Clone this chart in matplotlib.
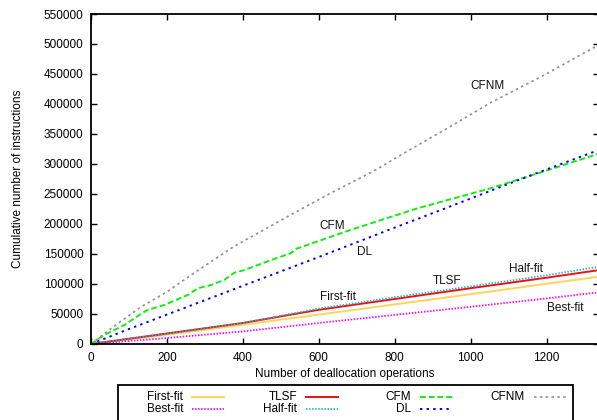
import numpy as np
import matplotlib
matplotlib.use("Agg")
import matplotlib.pyplot as plt
from matplotlib.lines import Line2D
from matplotlib.patches import Rectangle

plt.rcParams['font.family'] = ['Liberation Sans', 'DejaVu Sans']
plt.rcParams['font.size'] = 8.5

# cumulative instruction counts vs number of deallocations
ff_x = [0, 200, 400, 600, 800, 1000, 1200, 1336]
ff_y = [0, 15500, 32000, 49000, 66000, 83000, 100500, 112000]

bf_x = [0, 200, 400, 600, 800, 1000, 1200, 1336]
bf_y = [0, 10000, 21000, 35000, 48500, 62000, 76000, 86000]

tlsf_x = [0, 200, 400, 600, 800, 1000, 1200, 1336]
tlsf_y = [0, 17500, 35000, 57000, 75000, 93000, 110500, 123000]

hf_x = [0, 200, 400, 600, 800, 1000, 1200, 1336]
hf_y = [0, 17000, 35000, 59000, 78000, 96000, 114500, 128500]

cfm_x = [0, 35, 88, 127, 149, 193, 255, 281, 316, 351, 378, 404, 475, 525, 542,
         683, 859, 1052, 1175, 1336]
cfm_y = [0, 15000, 31700, 48300, 56700, 65000, 81700, 92800, 98300, 106700,
         118900, 123300, 140000, 151000, 159000, 190000, 226000, 259500, 284000, 317000]

dl_x = [0, 100, 200, 300, 400, 500, 600, 700, 800, 900, 1000, 1100, 1200, 1336]
dl_y = [0, 25000, 49000, 73000, 97000, 121000, 145000, 169500, 194000, 218000,
        242500, 267000, 291000, 323000]

cfnm_x = [0, 53, 132, 200, 280, 375, 525, 630, 744, 824, 929, 1052, 1190, 1336]
cfnm_y = [0, 26000, 62000, 87000, 122000, 162000, 215000, 251000, 288000, 318000,
          356000, 402000, 447000, 498000]

# in-plot curve labels: (text, x, y)
tags = [("CFNM", 1044, 430000), ("CFM", 635, 196700), ("DL", 720, 153800),
        ("First-fit", 650, 77800), ("TLSF", 938, 105500),
        ("Half-fit", 1146, 125000), ("Best-fit", 1250, 60500)]

# name, x, y, style, key column, key row
series = [
    ("First-fit", ff_x, ff_y, dict(color='#ffd35c', lw=1.4), 0, 0),
    ("Best-fit", bf_x, bf_y, dict(color='#ff00ff', lw=1.3, dashes=(0.8, 0.9)), 0, 1),
    ("TLSF", tlsf_x, tlsf_y, dict(color='#ee1111', lw=1.4), 1, 0),
    ("Half-fit", hf_x, hf_y, dict(color='#22b4c8', lw=1.3, dashes=(0.8, 0.9)), 1, 1),
    ("CFM", cfm_x, cfm_y, dict(color='#11ee11', lw=1.4, dashes=(3.0, 1.5)), 2, 0),
    ("DL", dl_x, dl_y, dict(color='#0000ee', lw=1.4, dashes=(1.2, 2.2)), 2, 1),
    ("CFNM", cfnm_x, cfnm_y, dict(color='#909090', lw=1.2, dashes=(1.5, 2.0)), 3, 0),
]

W, H = 597, 420
fig = plt.figure(figsize=(W/100, H/100), dpi=100)
ax = fig.add_axes([91/W, 1-344/H, 508/W, 330/H])

for name, xs, ys, st, c, r in series:
    ax.plot(xs, ys, **st)

for txt, tx, ty in tags:
    ax.text(tx, ty, txt, ha='center', va='center', color='#111111')

ax.set_xlim(0, 1338)
ax.set_ylim(0, 550000)
ax.set_xticks(np.arange(0, 1201, 200))
ax.set_yticks(np.arange(0, 550001, 50000))
ax.tick_params(direction='in', length=4.5, width=1.0, top=True, right=True, pad=5.5)
for s in ax.spines.values():
    s.set_linewidth(1.3)

ax.set_xlabel("Number of deallocation operations")
ax.set_ylabel("Cumulative number of instructions")
ax.xaxis.set_label_coords(0.5, -(368-344)/330)
ax.yaxis.set_label_coords(-(91-24)/508, 0.5)

# gnuplot-style key below the plot: fixed-width columns, text right of centre, sample after
fig.add_artist(Rectangle((118/W, -0.05), 455/W, 0.05 + 1-385/H, fill=False,
                         lw=1.3, ec='black', transform=fig.transFigure))
for name, xs, ys, st, c, r in series:
    tx = 183 + 114*c
    ty = 1 - (397 + 12*r)/H
    fig.text(tx/W, ty, name, ha='right', va='center')
    fig.add_artist(Line2D([(tx + 9)/W, (tx + 41)/W], [ty, ty],
                          transform=fig.transFigure, **st))

fig.savefig("out.png", dpi=100)
